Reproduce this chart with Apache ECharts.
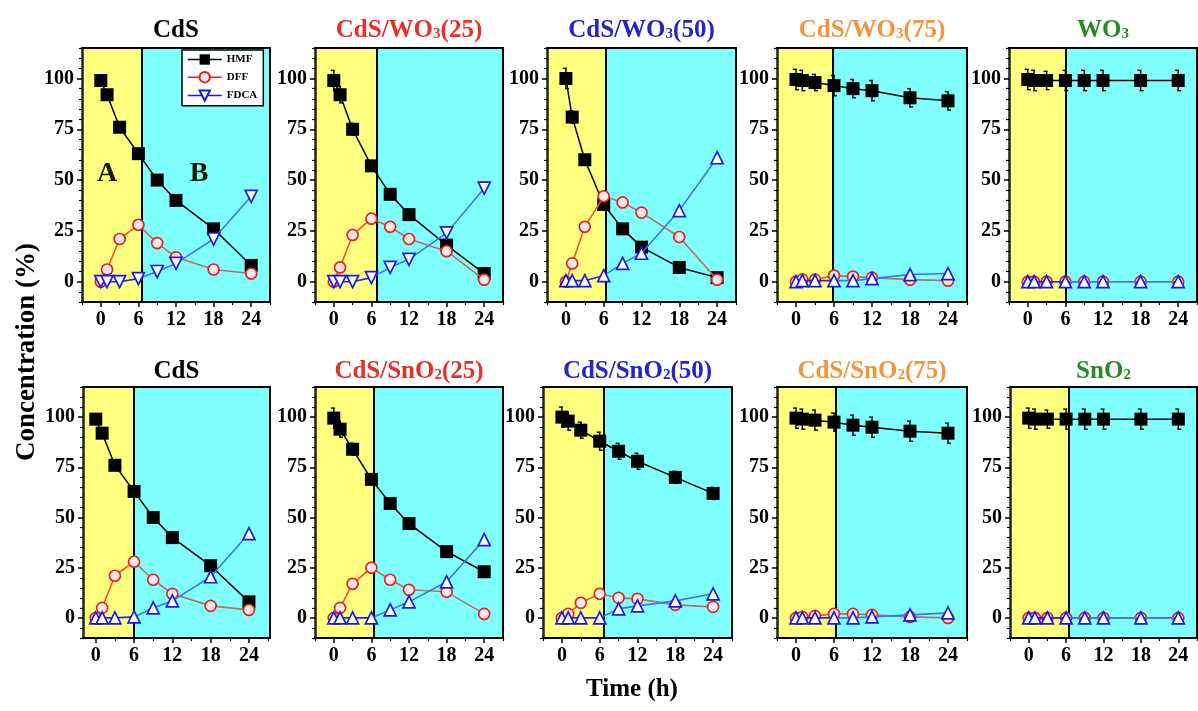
<!DOCTYPE html>
<html><head><meta charset="utf-8">
<script src="https://cdn.jsdelivr.net/npm/echarts@6/dist/echarts.min.js"></script>
<style>html,body{margin:0;padding:0;background:#fff}#c{width:1198px;height:711px}</style>
</head><body><div id="c"></div>
<script>
// ---------- data ----------
const times = [0, 1, 3, 6, 9, 12, 18, 24];
const xTickLabels = [0, 6, 12, 18, 24];
const xMinorTicks = [-3, 3, 9, 15, 21, 27];
const yTickLabels = [0, 25, 50, 75, 100];
const yMinorTicks = [-10, -5, 5, 10, 15, 20, 30, 35, 40, 45, 55, 60, 65, 70, 80, 85, 90, 95, 105, 110, 115];
const seriesNames = ['HMF', 'DFF', 'FDCA'];
const regionLabels = ['A', 'B'];
const regionLabelX = [1.0, 15.7];
const regionLabelY = 53;

const titles = ['CdS', 'CdS/WO{s|3}(25)', 'CdS/WO{s|3}(50)', 'CdS/WO{s|3}(75)', 'WO{s|3}',
                'CdS', 'CdS/SnO{s|2}(25)', 'CdS/SnO{s|2}(50)', 'CdS/SnO{s|2}(75)', 'SnO{s|2}'];

// top row: CdS / WO3
const hmfCdS1 = [99, 92, 76, 63, 50, 40, 26, 8];
const dffCdS1 = [0, 6, 21, 28, 19, 12, 6, 4];
const fdcaCdS1 = [0, 0, 0, 1.5, 5, 9, 21, 42];

const hmfW25 = [99, 92, 75, 57, 43, 33, 18, 4];
const dffW25 = [0, 7, 23, 31, 27, 21, 15, 1];
const fdcaW25 = [0, 0, 0, 2, 7, 11, 24, 46];
const errW25 = [5, 4, 3, 2, 0, 0, 0, 0];

const hmfW50 = [100, 81, 60, 38, 26, 17, 7, 2];
const dffW50 = [0, 9, 27, 42, 39, 34, 22, 1];
const fdcaW50 = [0.5, 0.5, 0.5, 3, 9, 14, 35, 61];
const errW50 = [5, 3, 2, 0, 0, 0, 0, 0];

const hmfW75 = [99.5, 99, 98, 96.5, 95, 94, 90.5, 89];
const dffW75 = [0, 1, 1, 3, 2.5, 2, 1, 0.5];
const fdcaW75 = [0, 0.5, 0.5, 0.5, 0.5, 1.5, 3.5, 4];
const errW75 = [5, 5, 4, 5, 4.5, 5, 4.5, 4.5];

const hmfWO3 = [99.5, 99, 99, 99, 99, 99, 99, 99];
const dffWO3 = [0, 0, 0, 0, 0, 0, 0, 0];
const fdcaWO3 = [0, 0, 0, 0, 0, 0, 0, 0];
const errWO3 = [5, 5, 4.5, 5, 5, 5, 5, 5];

// bottom row: CdS / SnO2
const hmfCdS2 = [99, 92, 76, 63, 50, 40, 26, 8];
const dffCdS2 = [0, 5, 21, 28, 19, 12, 6, 4];
const fdcaCdS2 = [0, 0, 0, 0.5, 5, 8.5, 20.5, 42];

const hmfS25 = [99.5, 94, 84, 69, 57, 47, 33, 23];
const dffS25 = [0, 5, 17, 25, 19, 14, 13, 2];
const fdcaS25 = [0, 0, 0, 0, 4, 8, 18, 39];
const errS25 = [5, 4, 3, 2, 1.5, 0, 0, 0];

const hmfS50 = [100, 98, 93.5, 88, 83, 78, 70, 62];
const dffS50 = [0, 2, 7.5, 12, 10, 9.5, 6.5, 5.5];
const fdcaS50 = [0, 0, 0, 0, 4.5, 6, 8.5, 12];
const errS50 = [5, 4.5, 4, 4.5, 4, 4, 3, 3];

const hmfS75 = [99.5, 99, 98.5, 97.5, 96, 95, 93, 92];
const dffS75 = [0, 0.5, 1, 2, 2, 1.5, 0.5, 0];
const fdcaS75 = [0, 0, 0, 0, 0, 0.5, 1.5, 2.5];
const errS75 = [5, 5, 5, 4.5, 5, 5, 5, 5];

const hmfSnO2 = [99.5, 99, 99, 99, 99, 99, 99, 99];
const dffSnO2 = [0, 0, 0, 0, 0, 0, 0, 0];
const fdcaSnO2 = [0, 0, 0, 0, 0, 0, 0, 0];
const errSnO2 = [5, 5, 4.5, 5, 5, 5, 5, 5];

// boundary between region A and region B per panel, in hours
const regionSplit = [6.5, 6.8, 6.3, 5.85, 6.1, 6.0, 6.3, 6.6, 6.2, 6.4];

// ---------- layout / styles ----------
const FONT = '"Liberation Serif", "Times New Roman", serif';
const titleColors = ['#000000', '#e8302a', '#2424c8', '#f0963c', '#2a8a2a',
                     '#000000', '#e8302a', '#2424c8', '#f0963c', '#2a8a2a'];
const panels = [
  {left: 82, top: 48, width: 188, height: 254},
  {left: 315, top: 48, width: 188, height: 254},
  {left: 547, top: 48, width: 189, height: 254},
  {left: 777, top: 48, width: 190, height: 254},
  {left: 1009, top: 48, width: 188, height: 254},
  {left: 83, top: 387, width: 187, height: 251},
  {left: 315, top: 387, width: 188, height: 251},
  {left: 543, top: 387, width: 189, height: 251},
  {left: 777, top: 387, width: 190, height: 251},
  {left: 1010, top: 387, width: 187, height: 251}
];
const xRange = [[-3, 27], [-3, 27], [-3, 27], [-3, 27], [-3, 27],
                [-2, 27.3], [-3, 27], [-3, 27], [-3, 27], [-3, 27]];
const panelData = [
  [hmfCdS1, dffCdS1, fdcaCdS1, null],
  [hmfW25, dffW25, fdcaW25, errW25],
  [hmfW50, dffW50, fdcaW50, errW50],
  [hmfW75, dffW75, fdcaW75, errW75],
  [hmfWO3, dffWO3, fdcaWO3, errWO3],
  [hmfCdS2, dffCdS2, fdcaCdS2, null],
  [hmfS25, dffS25, fdcaS25, errS25],
  [hmfS50, dffS50, fdcaS50, errS50],
  [hmfS75, dffS75, fdcaS75, errS75],
  [hmfSnO2, dffSnO2, fdcaSnO2, errSnO2]
];
const triRotate = [180, 180, 0, 0, 0, 0, 0, 0, 0, 0];

const YELLOW = '#ffff80', CYAN = '#80ffff';
const DFF_A = '#f25522', DFF_B = '#b87060';
const FDCA_A = '#2a2ad8', FDCA_B = '#3a78e6';

const grids = [], xAxes = [], yAxes = [], series = [], titleComps = [];

const zip = (arr) => times.map((t, i) => [t, arr[i]]);

panels.forEach((p, g) => {
  grids.push({left: p.left, top: p.top, width: p.width, height: p.height, containLabel: false});
  const [xmin, xmax] = xRange[g];
  const common = {gridIndex: g, type: 'value', min: xmin, max: xmax, splitLine: {show: false}, z: 10};
  xAxes.push(Object.assign({}, common, {
    position: 'bottom',
    axisLine: {show: true, onZero: false, lineStyle: {color: '#000', width: 2}},
    axisTick: {show: true, inside: false, length: 5, customValues: xTickLabels, lineStyle: {color: '#000', width: 1.5}},
    axisLabel: {show: true, customValues: xTickLabels, margin: 8, color: '#000', fontFamily: FONT, fontWeight: 'bold', fontSize: 20}
  }));
  xAxes.push(Object.assign({}, common, {
    position: 'bottom',
    axisLine: {show: false, onZero: false},
    axisTick: {show: true, length: 3, customValues: xMinorTicks, lineStyle: {color: '#000', width: 1.2}},
    axisLabel: {show: false}
  }));
  xAxes.push(Object.assign({}, common, {
    position: 'top',
    axisLine: {show: true, onZero: false, lineStyle: {color: '#000', width: 2}},
    axisTick: {show: false}, axisLabel: {show: false}
  }));
  const ycommon = {gridIndex: g, type: 'value', min: -10, max: 115, splitLine: {show: false}, z: 10};
  yAxes.push(Object.assign({}, ycommon, {
    position: 'left',
    axisLine: {show: true, onZero: false, lineStyle: {color: '#222', width: 2.5}},
    axisTick: {show: true, length: 5, customValues: yTickLabels, lineStyle: {color: '#000', width: 1.5}},
    axisLabel: {show: true, customValues: yTickLabels, margin: 8, color: '#000', fontFamily: FONT, fontWeight: 'bold', fontSize: 20}
  }));
  yAxes.push(Object.assign({}, ycommon, {
    position: 'left',
    axisLine: {show: false, onZero: false},
    axisTick: {show: true, length: 3, customValues: yMinorTicks, lineStyle: {color: '#000', width: 1.2}},
    axisLabel: {show: false}
  }));
  yAxes.push(Object.assign({}, ycommon, {
    position: 'right',
    axisLine: {show: true, onZero: false, lineStyle: {color: '#000', width: 2}},
    axisTick: {show: false}, axisLabel: {show: false}
  }));

  const xi = 3 * g, yi = 3 * g;
  const split = regionSplit[g];
  const [hmf, dff, fdca, err] = panelData[g];

  const bg = {
    type: 'line', data: [], xAxisIndex: xi, yAxisIndex: yi, z: 1, silent: true,
    markArea: {silent: true, data: [
      [{xAxis: xmin, itemStyle: {color: YELLOW}}, {xAxis: split}],
      [{xAxis: split, itemStyle: {color: CYAN}}, {xAxis: xmax}]
    ]},
    markLine: {silent: true, symbol: 'none', label: {show: false},
      lineStyle: {color: '#000', width: 2, type: 'solid'}, data: [{xAxis: split}]}
  };
  if (g === 0) {
    bg.markPoint = {
      silent: true, symbol: 'circle', symbolSize: 0,
      label: {show: true, position: 'inside', formatter: '{b}', color: '#1a1a00',
        fontFamily: FONT, fontWeight: 'bold', fontSize: 28},
      data: regionLabels.map((n, i) => ({name: n, coord: [regionLabelX[i], regionLabelY]}))
    };
  }
  series.push(bg);

  if (err) {
    series.push({
      type: 'custom', xAxisIndex: xi, yAxisIndex: yi, z: 3, silent: true,
      data: times.map((t, i) => [t, hmf[i], err[i]]).filter(d => d[2] > 0),
      encode: {x: 0, y: 1},
      renderItem: (params, api) => {
        const x = api.value(0), y = api.value(1), e = api.value(2);
        const a = api.coord([x, y + e]), b = api.coord([x, y - e]);
        const st = {stroke: '#000', lineWidth: 1.4};
        return {type: 'group', children: [
          {type: 'line', shape: {x1: a[0], y1: a[1], x2: b[0], y2: b[1]}, style: st},
          {type: 'line', shape: {x1: a[0] - 3, y1: a[1], x2: a[0] + 1, y2: a[1]}, style: st},
          {type: 'line', shape: {x1: b[0] - 1, y1: b[1], x2: b[0] + 3, y2: b[1]}, style: st}
        ]};
      }
    });
  }

  series.push({
    name: 'HMF', type: 'line', xAxisIndex: xi, yAxisIndex: yi, z: 4, data: zip(hmf),
    symbol: 'rect', symbolSize: 13, showSymbol: true,
    itemStyle: {color: '#000'}, lineStyle: {color: '#000', width: 1.5}, emphasis: {disabled: true}
  });

  const idxA = times.map((t, i) => i).filter(i => times[i] <= 6);
  const idxB = times.map((t, i) => i).filter(i => times[i] >= 6);
  series.push({type: 'line', xAxisIndex: xi, yAxisIndex: yi, z: 5, silent: true, symbol: 'none',
    data: idxA.map(i => [times[i], dff[i]]), lineStyle: {color: DFF_A, width: 1.6}});
  series.push({type: 'line', xAxisIndex: xi, yAxisIndex: yi, z: 5, silent: true, symbol: 'none',
    data: idxB.map(i => [times[i], dff[i]]), lineStyle: {color: DFF_B, width: 1.6}});
  series.push({
    name: 'DFF', type: 'line', xAxisIndex: xi, yAxisIndex: yi, z: 6, data: zip(dff),
    symbol: 'circle', symbolSize: 11, showSymbol: true,
    itemStyle: {color: '#ffe8e8', borderColor: '#e02424', borderWidth: 1.7},
    lineStyle: {width: 0, opacity: 0}, emphasis: {disabled: true}
  });

  series.push({type: 'line', xAxisIndex: xi, yAxisIndex: yi, z: 7, silent: true, symbol: 'none',
    data: idxA.map(i => [times[i], fdca[i]]), lineStyle: {color: FDCA_A, width: 1.6}});
  series.push({type: 'line', xAxisIndex: xi, yAxisIndex: yi, z: 7, silent: true, symbol: 'none',
    data: idxB.map(i => [times[i], fdca[i]]), lineStyle: {color: FDCA_B, width: 1.6}});
  series.push({
    name: 'FDCA', type: 'line', xAxisIndex: xi, yAxisIndex: yi, z: 8, data: zip(fdca),
    symbol: 'triangle', symbolSize: 12, symbolRotate: triRotate[g], showSymbol: true,
    itemStyle: {color: '#ffffff', borderColor: '#1a1ae0', borderWidth: 1.7},
    lineStyle: {width: 0, opacity: 0}, emphasis: {disabled: true}
  });

  const col = titleColors[g];
  titleComps.push({
    text: titles[g], left: p.left + p.width / 2, top: g < 5 ? 17 : 358, textAlign: 'center', padding: 0,
    textStyle: {fontFamily: FONT, fontWeight: 'bold', fontSize: 25, color: col, lineHeight: 28,
      rich: {s: {fontFamily: FONT, fontWeight: 'bold', fontSize: 15, color: col, lineHeight: 28, padding: [7, 0, 0, 0]}}}
  });
});

const option = {
  animation: false,
  backgroundColor: '#ffffff',
  title: titleComps,
  grid: grids,
  xAxis: xAxes,
  yAxis: yAxes,
  legend: {
    data: [
      {name: 'HMF', lineStyle: {color: '#000', width: 1.5, opacity: 1}},
      {name: 'DFF', lineStyle: {color: '#e02424', width: 1.5, opacity: 1}},
      {name: 'FDCA', lineStyle: {color: '#1a1ae0', width: 1.5, opacity: 1}}
    ],
    orient: 'vertical', left: 182, top: 50, itemWidth: 34, itemHeight: 13, itemGap: 6,
    padding: [4, 6, 4, 5], backgroundColor: '#ffffff', borderColor: '#000', borderWidth: 1.5,
    selectedMode: false, z: 20,
    textStyle: {fontFamily: FONT, fontWeight: 'bold', fontSize: 11, color: '#000'}
  },
  graphic: [
    {type: 'text', x: 27, y: 352, rotation: Math.PI / 2,
      style: {text: 'Concentration (%)', fill: '#000', font: 'bold 27px "Liberation Serif", serif', align: 'center', verticalAlign: 'middle'}},
    {type: 'text', x: 632, y: 690,
      style: {text: 'Time (h)', fill: '#000', font: 'bold 25px "Liberation Serif", serif', align: 'center', verticalAlign: 'middle'}}
  ],
  series: series
};
const chart = echarts.init(document.getElementById('c'), null, {renderer: 'canvas'});
chart.setOption(option);
</script></body></html>
